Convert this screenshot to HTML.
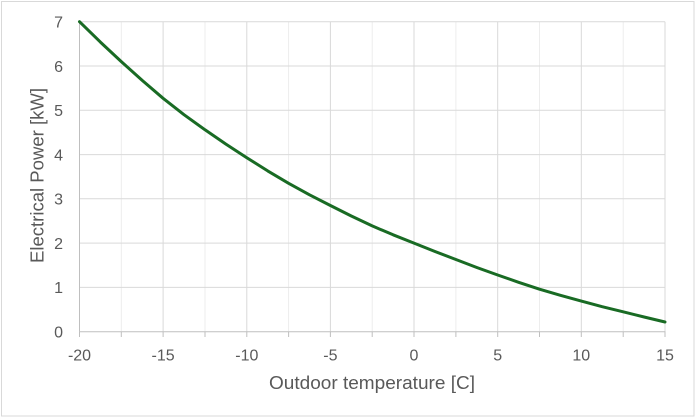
<!DOCTYPE html>
<html><head><meta charset="utf-8"><style>
html,body{margin:0;padding:0;background:#fff;}
svg{display:block;}
text{font-family:"Liberation Sans",sans-serif;fill:#595959;}
</style></head><body>
<svg width="696" height="418" viewBox="0 0 696 418" xmlns="http://www.w3.org/2000/svg">
<rect x="0" y="0" width="696" height="418" fill="#fff"/>
<rect x="1.5" y="1.5" width="692.5" height="414.5" fill="none" stroke="#D9D9D9" stroke-width="1"/>
<g stroke="#EDEDED" stroke-width="1">
<line x1="121.3" y1="21.7" x2="121.3" y2="331.7"/>
<line x1="205.0" y1="21.7" x2="205.0" y2="331.7"/>
<line x1="288.6" y1="21.7" x2="288.6" y2="331.7"/>
<line x1="372.2" y1="21.7" x2="372.2" y2="331.7"/>
<line x1="455.9" y1="21.7" x2="455.9" y2="331.7"/>
<line x1="539.5" y1="21.7" x2="539.5" y2="331.7"/>
<line x1="623.2" y1="21.7" x2="623.2" y2="331.7"/>
</g>
<g stroke="#D9D9D9" stroke-width="1">
<line x1="163.1" y1="21.7" x2="163.1" y2="331.7"/>
<line x1="246.8" y1="21.7" x2="246.8" y2="331.7"/>
<line x1="330.4" y1="21.7" x2="330.4" y2="331.7"/>
<line x1="414.0" y1="21.7" x2="414.0" y2="331.7"/>
<line x1="497.7" y1="21.7" x2="497.7" y2="331.7"/>
<line x1="581.3" y1="21.7" x2="581.3" y2="331.7"/>
<line x1="665.0" y1="21.7" x2="665.0" y2="331.7"/>
</g>
<g stroke="#D9D9D9" stroke-width="1">
<line x1="79.5" y1="21.7" x2="665" y2="21.7"/>
<line x1="79.5" y1="66.0" x2="665" y2="66.0"/>
<line x1="79.5" y1="110.3" x2="665" y2="110.3"/>
<line x1="79.5" y1="154.6" x2="665" y2="154.6"/>
<line x1="79.5" y1="198.8" x2="665" y2="198.8"/>
<line x1="79.5" y1="243.1" x2="665" y2="243.1"/>
<line x1="79.5" y1="287.4" x2="665" y2="287.4"/>
</g>
<g stroke="#BFBFBF" stroke-width="1">
<line x1="79.5" y1="21.7" x2="79.5" y2="331.7"/>
<line x1="79.5" y1="331.7" x2="665.5" y2="331.7"/>
<line x1="79.5" y1="331.7" x2="79.5" y2="337"/>
<line x1="121.3" y1="331.7" x2="121.3" y2="337"/>
<line x1="163.1" y1="331.7" x2="163.1" y2="337"/>
<line x1="205.0" y1="331.7" x2="205.0" y2="337"/>
<line x1="246.8" y1="331.7" x2="246.8" y2="337"/>
<line x1="288.6" y1="331.7" x2="288.6" y2="337"/>
<line x1="330.4" y1="331.7" x2="330.4" y2="337"/>
<line x1="372.2" y1="331.7" x2="372.2" y2="337"/>
<line x1="414.0" y1="331.7" x2="414.0" y2="337"/>
<line x1="455.9" y1="331.7" x2="455.9" y2="337"/>
<line x1="497.7" y1="331.7" x2="497.7" y2="337"/>
<line x1="539.5" y1="331.7" x2="539.5" y2="337"/>
<line x1="581.3" y1="331.7" x2="581.3" y2="337"/>
<line x1="623.2" y1="331.7" x2="623.2" y2="337"/>
<line x1="665.0" y1="331.7" x2="665.0" y2="337"/>
</g>
<polyline fill="none" stroke="#196B24" stroke-width="3" stroke-linejoin="round" stroke-linecap="round"
points="79.5,21.7 100.4,42.1 121.3,61.6 142.2,80.4 163.1,98.3 184.0,114.7 205.0,129.8 225.9,144.1 246.8,157.7 267.7,170.9 288.6,183.3 309.5,194.8 330.4,205.5 351.3,216.0 372.2,225.9 393.1,234.8 414.0,243.1 435.0,251.5 455.9,259.5 476.8,267.5 497.7,275.0 518.6,282.3 539.5,289.2 560.4,295.3 581.3,301.1 602.2,306.7 623.2,311.8 644.1,317.0 665.0,322.0"/>
<g font-size="16" text-anchor="end">
<text x="63" y="27.5">7</text>
<text x="63" y="71.8">6</text>
<text x="63" y="116.1">5</text>
<text x="63" y="160.4">4</text>
<text x="63" y="204.6">3</text>
<text x="63" y="248.9">2</text>
<text x="63" y="293.2">1</text>
<text x="63" y="337.5">0</text>
</g>
<g font-size="16" text-anchor="middle">
<text x="79.5" y="360.5">-20</text>
<text x="163.1" y="360.5">-15</text>
<text x="246.8" y="360.5">-10</text>
<text x="330.4" y="360.5">-5</text>
<text x="414.0" y="360.5">0</text>
<text x="497.7" y="360.5">5</text>
<text x="581.3" y="360.5">10</text>
<text x="665.0" y="360.5">15</text>
</g>
<text x="269" y="389" font-size="18" textLength="206" lengthAdjust="spacingAndGlyphs">Outdoor temperature [C]</text>
<text transform="translate(43.5,263) rotate(-90)" x="0" y="0" font-size="18" textLength="175" lengthAdjust="spacingAndGlyphs">Electrical Power [kW]</text>
</svg>
</body></html>
